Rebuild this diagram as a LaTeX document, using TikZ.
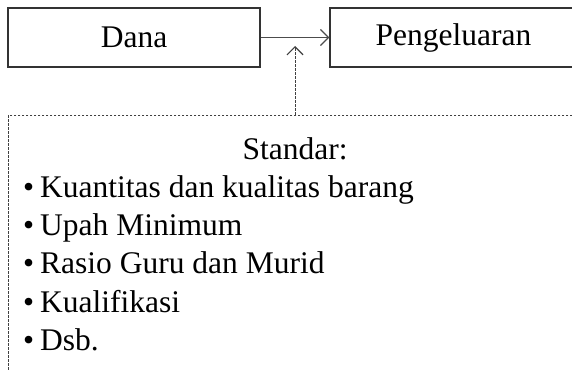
\documentclass[tikz,border=0pt]{standalone}
\usepackage{fontspec}
\setmainfont{Liberation Serif}
\usetikzlibrary{arrows.meta}
\begin{document}
\begin{tikzpicture}[x=1pt,y=-1pt,
  txt/.style={font=\fontsize{31.5}{38}\selectfont, inner sep=0pt},
  solidbox/.style={draw=black!80, line width=1.4pt, minimum width=252pt, minimum height=59pt, inner sep=0pt, txt},
  dashbox/.style={draw=black!75, line width=0.9pt, dash pattern=on 2.5pt off 1.5pt, inner sep=0pt},
  tip/.style={-{Straight Barb[length=8pt,width=16pt,line width=1.2pt]}}
]
\useasboundingbox (0,0) rectangle (572,371);
\clip (0,0) rectangle (572,371);
\node[solidbox] (dana) at (134,37.5) {Dana};
\node[solidbox, minimum width=260pt] (peng) at (460,37.5) {\hspace*{-13pt}Pengeluaran};
\node[dashbox, minimum width=620pt, minimum height=300pt, anchor=north west] (std) at (8,115) {};
\coordinate (vtip) at (295,46);
\node[txt, anchor=base] (stdt) at (295,160) {Standar:};
\node[txt, anchor=base west] (b1) at (23,197) {•\hspace{6pt}Kuantitas dan kualitas barang};
\node[txt, anchor=base west] (b2) at (23,235) {•\hspace{6pt}Upah Minimum};
\node[txt, anchor=base west] (b3) at (23,273) {•\hspace{6pt}Rasio Guru dan Murid};
\node[txt, anchor=base west] (b4) at (23,312) {•\hspace{6pt}Kualifikasi};
\node[txt, anchor=base west] (b5) at (23,350) {•\hspace{6pt}Dsb.};
\draw[tip, draw=black!70, line width=1.4pt] (dana.east) -- (peng.west);
\draw[tip, draw=black!75, line width=0.9pt, dash pattern=on 2.5pt off 1.5pt] (std.north -| vtip) -- (vtip);
\end{tikzpicture}
\end{document}
